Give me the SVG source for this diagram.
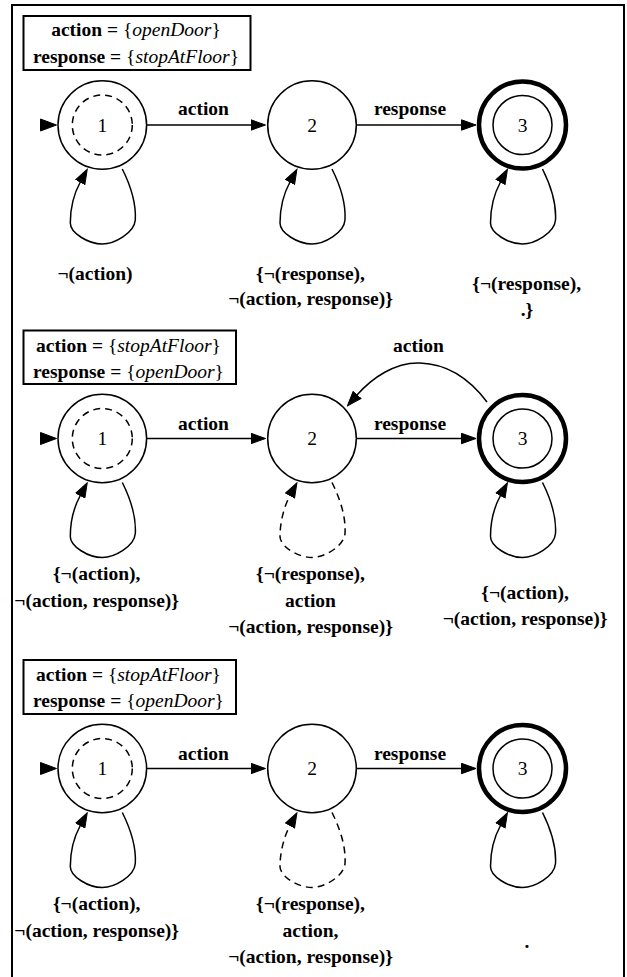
<svg xmlns="http://www.w3.org/2000/svg" width="627" height="977" viewBox="0 0 627 977">
<style>
text{font-family:"Liberation Serif","Times New Roman",serif;font-size:19.5px;fill:#000}
.b{font-weight:bold}
.i{font-style:italic;font-weight:normal}
.r{font-weight:normal}
.c{text-anchor:middle}
.node{fill:#fff;stroke:#000;stroke-width:1.5}
.dash{fill:none;stroke:#000;stroke-width:1.5;stroke-dasharray:7,5}
.thick{fill:#fff;stroke:#000;stroke-width:4.5}
.edge{fill:none;stroke:#000;stroke-width:1.5;marker-end:url(#arr)}
.dedge{fill:none;stroke:#000;stroke-width:1.5;stroke-dasharray:7,5;marker-end:url(#arr)}
.box{fill:#fff;stroke:#000;stroke-width:2}
.frame{fill:none;stroke:#000;stroke-width:2}
</style>
<defs>
<marker id="arr" viewBox="0 0 16 12" refX="0.5" refY="6" markerWidth="16" markerHeight="12" markerUnits="userSpaceOnUse" orient="auto">
<path d="M0.5,0.8 L15,6 L0.5,11.2 z" fill="#000" stroke="#000" stroke-width="1"/>
</marker>
<path id="loop" d="M20,44 C28,60 34,78 33,95 C32,108 12,119 0,119 C-14,119 -32,108 -32,98 C-32,84 -28,68 -22,57"/>
</defs>
<rect width="627" height="977" fill="#fff"/>
<path class="frame" d="M12,980 L12,5 L624,5 L624,980"/>

<!-- Panel 1 -->
<g id="panel1">
<g id="p1-legend">
<rect class="box" x="23.5" y="16" width="227" height="54"/>
<text class="c" x="136" y="36"><tspan class="b">action = </tspan><tspan class="r">{</tspan><tspan class="i">openDoor</tspan><tspan class="r">}</tspan></text>
<text class="c" x="136" y="63"><tspan class="b">response = </tspan><tspan class="r">{</tspan><tspan class="i">stopAtFloor</tspan><tspan class="r">}</tspan></text>
</g>
<g id="p1-n1">
<circle class="node" cx="102.3" cy="125" r="44.3"/>
<circle class="dash" cx="102.3" cy="125" r="30"/>
<text class="c" x="102.3" y="131.7">1</text>
</g>
<g id="p1-n2">
<circle class="node" cx="312" cy="125" r="44.3"/>
<text class="c" x="312" y="131.7">2</text>
</g>
<g id="p1-n3">
<circle class="thick" cx="522.5" cy="125" r="43.5"/>
<circle class="node" cx="522.5" cy="125" r="29.5"/>
<text class="c" x="522.5" y="131.7">3</text>
</g>
<g id="p1-edges">
<polygon points="40.5,119 56.5,125 40.5,131" fill="#000" stroke="#000" stroke-width="1"/>
<path class="edge" d="M147,125 L251,125"/>
<text class="c b" x="203.5" y="115">action</text>
<path class="edge" d="M357,125 L461.5,125"/>
<text class="c b" x="410" y="115">response</text>
<use href="#loop" class="edge" transform="translate(102.3,125)"/>
<use href="#loop" class="edge" transform="translate(312,125)"/>
<use href="#loop" class="edge" transform="translate(522.5,125)"/>
<text class="c b" x="95" y="280">¬(action)</text>
<text class="c b" x="310.5" y="280">{¬(response),</text>
<text class="c b" x="310.5" y="305">¬(action, response)}</text>
<text class="c b" x="526.7" y="290">{¬(response),</text>
<text class="c b" x="527" y="316">.}</text>
</g>
</g>

<!-- Panel 2 -->
<g id="panel2">
<g id="p2-legend">
<rect class="box" x="23.5" y="330.5" width="212.5" height="53.5"/>
<text class="c" x="128.5" y="351.5"><tspan class="b">action = </tspan><tspan class="r">{</tspan><tspan class="i">stopAtFloor</tspan><tspan class="r">}</tspan></text>
<text class="c" x="128.5" y="378"><tspan class="b">response = </tspan><tspan class="r">{</tspan><tspan class="i">openDoor</tspan><tspan class="r">}</tspan></text>
</g>
<g id="p2-n1">
<circle class="node" cx="102.3" cy="438.5" r="44.3"/>
<circle class="dash" cx="102.3" cy="438.5" r="30"/>
<text class="c" x="102.3" y="445.2">1</text>
</g>
<g id="p2-n2">
<circle class="node" cx="312" cy="438.5" r="44.3"/>
<text class="c" x="312" y="445.2">2</text>
</g>
<g id="p2-n3">
<circle class="thick" cx="522.5" cy="438.5" r="43.5"/>
<circle class="node" cx="522.5" cy="438.5" r="29.5"/>
<text class="c" x="522.5" y="445.2">3</text>
</g>
<g id="p2-edges">
<polygon points="40.5,432.5 56.5,438.5 40.5,444.5" fill="#000" stroke="#000" stroke-width="1"/>
<path class="edge" d="M147,438.5 L251,438.5"/>
<text class="c b" x="203.5" y="429.5">action</text>
<path class="edge" d="M357,438.5 L461.5,438.5"/>
<text class="c b" x="410" y="429.5">response</text>
<path class="edge" d="M487,402 C472,382 450,364 420,363 C395,362 372,378 357,395"/>
<text class="c b" x="418.5" y="352">action</text>
<use href="#loop" class="edge" transform="translate(102.3,438.5)"/>
<use href="#loop" class="dedge" transform="translate(312,438.5)"/>
<use href="#loop" class="edge" transform="translate(522.5,438.5)"/>
<text class="c b" x="96.7" y="580">{¬(action),</text>
<text class="c b" x="96.7" y="606.5">¬(action, response)}</text>
<text class="c b" x="310.5" y="580">{¬(response),</text>
<text class="c b" x="310.5" y="606.5">action</text>
<text class="c b" x="310.5" y="633">¬(action, response)}</text>
<text class="c b" x="525" y="598.5">{¬(action),</text>
<text class="c b" x="525" y="625">¬(action, response)}</text>
</g>
</g>

<!-- Panel 3 -->
<g id="panel3">
<g id="p3-legend">
<rect class="box" x="23.5" y="660" width="212.5" height="54"/>
<text class="c" x="128.5" y="680.5"><tspan class="b">action = </tspan><tspan class="r">{</tspan><tspan class="i">stopAtFloor</tspan><tspan class="r">}</tspan></text>
<text class="c" x="128.5" y="707"><tspan class="b">response = </tspan><tspan class="r">{</tspan><tspan class="i">openDoor</tspan><tspan class="r">}</tspan></text>
</g>
<g id="p3-n1">
<circle class="node" cx="102.3" cy="768.5" r="44.3"/>
<circle class="dash" cx="102.3" cy="768.5" r="30"/>
<text class="c" x="102.3" y="775.2">1</text>
</g>
<g id="p3-n2">
<circle class="node" cx="312" cy="768.5" r="44.3"/>
<text class="c" x="312" y="775.2">2</text>
</g>
<g id="p3-n3">
<circle class="thick" cx="522.5" cy="768.5" r="43.5"/>
<circle class="node" cx="522.5" cy="768.5" r="29.5"/>
<text class="c" x="522.5" y="775.2">3</text>
</g>
<g id="p3-edges">
<polygon points="40.5,762.5 56.5,768.5 40.5,774.5" fill="#000" stroke="#000" stroke-width="1"/>
<path class="edge" d="M147,768.5 L251,768.5"/>
<text class="c b" x="203.5" y="759.5">action</text>
<path class="edge" d="M357,768.5 L461.5,768.5"/>
<text class="c b" x="410" y="759.5">response</text>
<use href="#loop" class="edge" transform="translate(102.3,768.5)"/>
<use href="#loop" class="dedge" transform="translate(312,768.5)"/>
<use href="#loop" class="edge" transform="translate(522.5,768.5)"/>
<text class="c b" x="96.7" y="910">{¬(action),</text>
<text class="c b" x="96.7" y="936.5">¬(action, response)}</text>
<text class="c b" x="310.5" y="910">{¬(response),</text>
<text class="c b" x="310.5" y="936.5">action,</text>
<text class="c b" x="310.5" y="963">¬(action, response)}</text>
<text class="c b" x="527" y="948">.</text>
</g>
</g>
</svg>
